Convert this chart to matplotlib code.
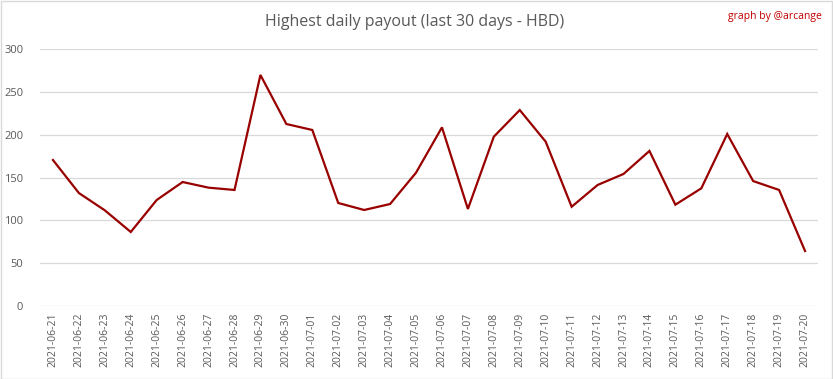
import matplotlib.pyplot as plt
from matplotlib.patches import Rectangle

dates = ["2021-06-21", "2021-06-22", "2021-06-23", "2021-06-24", "2021-06-25",
         "2021-06-26", "2021-06-27", "2021-06-28", "2021-06-29", "2021-06-30",
         "2021-07-01", "2021-07-02", "2021-07-03", "2021-07-04", "2021-07-05",
         "2021-07-06", "2021-07-07", "2021-07-08", "2021-07-09", "2021-07-10",
         "2021-07-11", "2021-07-12", "2021-07-13", "2021-07-14", "2021-07-15",
         "2021-07-16", "2021-07-17", "2021-07-18", "2021-07-19", "2021-07-20"]
payout = [170.6, 132.0, 111.8, 86.5, 123.9, 144.9, 138.3, 135.6, 270.0, 212.7,
          205.7, 120.4, 112.2, 119.2, 155.8, 208.8, 113.4, 197.9, 229.0, 192.0,
          116.0, 141.4, 154.3, 181.2, 118.4, 137.5, 201.0, 146.0, 135.6, 64.3]
yticks = [0, 50, 100, 150, 200, 250, 300]

plt.rcParams['font.family'] = ['Open Sans', 'DejaVu Sans']
grey = '#595959'

fig = plt.figure(figsize=(8.33, 3.79), dpi=100)
ax = fig.add_axes([40 / 833, 1 - 306 / 379, 778 / 833, (306 - 49.3) / 379])

x = list(range(len(dates)))
ax.plot(x, payout, color='#990000', linewidth=1.6, solid_joinstyle='miter')

ax.set_xlim(-0.5, len(dates) - 0.5)
ax.set_ylim(0, 300)
ax.set_yticks(yticks)
ax.set_xticks(x)
ax.set_xticklabels(dates, rotation=90, fontsize=7.5, color=grey)
ax.tick_params(axis='y', labelsize=8, colors=grey, length=0, pad=12)
ax.tick_params(axis='x', length=0, pad=5)
ax.grid(axis='y', color='#d9d9d9', linewidth=0.9)
ax.set_axisbelow(True)
for s in ax.spines.values():
    s.set_visible(False)

fig.text(415 / 833, 1 - 22 / 379, "Highest daily payout (last 30 days - HBD)",
         ha='center', va='center', fontsize=11.5, color=grey)
fig.text(822 / 833, 1 - 16 / 379, "graph by @arcange", ha='right', va='center',
         fontsize=7.5, color='#c00000')

fig.patches.append(Rectangle((0.5 / 833, 0.5 / 379), 831.5 / 833, 377.5 / 379,
                             transform=fig.transFigure, fill=False,
                             edgecolor='#d9d9d9', linewidth=1))

fig.savefig('out.png', dpi=100)
